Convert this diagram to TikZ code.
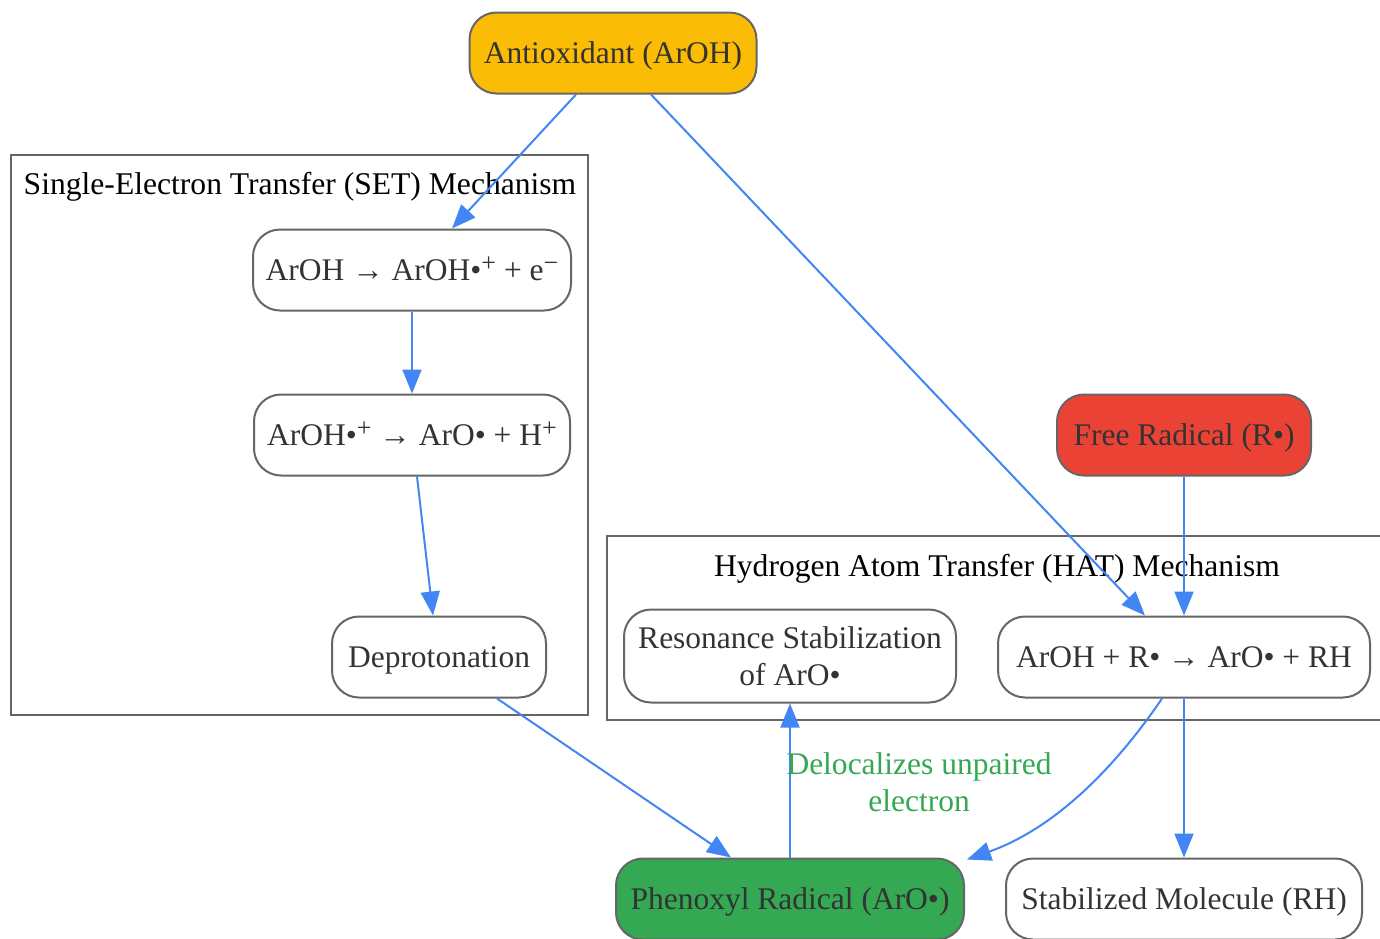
\documentclass[tikz,border=0pt]{standalone}
\usepackage{fontspec}
\setmainfont{Liberation Serif}
\usetikzlibrary{arrows.meta}
\definecolor{goldfill}{HTML}{FBBC05}
\definecolor{redfill}{HTML}{EA4335}
\definecolor{greenfill}{HTML}{34A853}
\definecolor{edgeblue}{HTML}{4285F4}
\definecolor{bordergray}{HTML}{666666}
\definecolor{textdark}{HTML}{333333}
\newcommand{\upsc}[1]{\raisebox{0.28em}{\fontsize{26}{26}\selectfont #1}}
\begin{document}
\begin{tikzpicture}[x=1pt,y=-1pt,
    box/.style={draw=bordergray, line width=2pt, rounded corners=27pt, minimum height=81pt,
      inner sep=0pt, align=center, text=textdark, font=\fontsize{31.5}{37}\selectfont,
      text height=23pt, text depth=2.5pt},
    cluster/.style={draw=bordergray, line width=2pt},
    clusterlabel/.style={text=black, font=\fontsize{31.6}{37}\selectfont, text height=23pt, text depth=2.5pt},
    link/.style={draw=edgeblue, line width=2pt, -{Triangle[length=24pt,width=19pt]}}]
    \useasboundingbox (0,0) rectangle (1380,938);
    %riquadri
    \draw[cluster] (11,155) rectangle (588,715);
    \node[clusterlabel] (setlabel) at (300,184) {Single-Electron Transfer (SET) Mechanism};
    \draw[cluster] (607,536) rectangle (1396,720);
    \node[clusterlabel] (hatlabel) at (997,566) {Hydrogen Atom Transfer (HAT) Mechanism};
    %nodi
    \node[box, fill=goldfill, minimum width=287pt] (anti) at (613,53) {Antioxidant (ArOH)};
    \node[box, minimum width=318pt] (ionize) at (412,270) {ArOH → ArOH•\upsc{+} + e\upsc{−}};
    \node[box, minimum width=316pt] (split) at (412,435) {ArOH•\upsc{+} → ArO• + H\upsc{+}};
    \node[box, minimum width=214pt] (depr) at (439,657) {Deprotonation};
    \node[box, fill=redfill, minimum width=254pt] (radical) at (1184,435) {Free Radical (R•)};
    \node[box, minimum width=332pt, minimum height=93pt, text height={}, text depth={}] (reso) at (790,656) {Resonance Stabilization\\of ArO•};
    \node[box, minimum width=372pt] (hat) at (1184,657) {ArOH + R• → ArO• + RH};
    \node[box, fill=greenfill, minimum width=348pt] (phen) at (790,899) {Phenoxyl Radical (ArO•)};
    \node[box, minimum width=356pt] (stab) at (1184,899) {Stabilized Molecule (RH)};
    %frecce
    \draw[link] ([xshift=-37pt]anti.south) -- ([xshift=40pt]ionize.north);
    \draw[link] ([xshift=38pt]anti.south) -- ([xshift=-39pt]hat.north);
    \draw[link] (ionize.south) -- (split.north);
    \draw[link] ([xshift=5pt]split.south) -- ([xshift=-6pt]depr.north);
    \draw[link] (radical.south) -- (hat.north);
    \draw[link] ([xshift=58pt]depr.south) -- ([xshift=-59pt]phen.north);
    \draw[link] (phen.north) -- (reso.south);
    \node[text=greenfill, align=center, font=\fontsize{31.5}{37}\selectfont] (deloc) at (919,782) {Delocalizes unpaired\\electron};
    \draw[link] ([xshift=-22pt]hat.south) .. controls (1110,775) and (1050,830) .. ([xshift=2pt,yshift=-2pt]phen.north east);
    \draw[link] (hat.south) -- (stab.north);
\end{tikzpicture}
\end{document}
